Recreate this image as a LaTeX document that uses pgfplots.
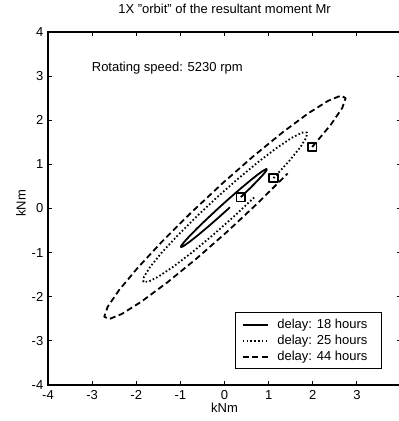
\documentclass[border=0pt]{standalone}
\usepackage{fontspec}
\setmainfont{Liberation Sans}
\usepackage{pgfplots}
\pgfplotsset{compat=1.18}

\begin{document}
\begin{tikzpicture}
\useasboundingbox (-48pt,-36pt) rectangle (351pt,385pt);
\clip (-48pt,-36pt) rectangle (351pt,385pt);
\begin{axis}[
  at={(0,0)}, anchor=south west,
  scale only axis, width=353pt, height=353pt,
  xmin=-4, xmax=4, ymin=-4, ymax=4,
  xtick={-4,...,4}, ytick={-4,...,4},
  xticklabels={-4,-3,-2,-1,0,1,2,3,{}},
  yticklabels={-4,-3,-2,-1,0,1,2,3,4},
  tick align=inside,
  major tick length=4pt,
  tick style={black, line width=1.1pt},
  axis line style={line width=1.5pt},
  font=\fontsize{13}{15.5}\selectfont,
  xticklabel style={anchor=north, inner sep=0pt, yshift=-5.5pt},
  yticklabel style={anchor=east, inner sep=0pt, xshift=-4.5pt},
  title={1X "orbit" of the resultant moment Mr},
  title style={at={(axis description cs:0.5,1)}, anchor=base, yshift=12.5pt, inner sep=0pt},
  xlabel={kNm}, ylabel={kNm},
  xlabel style={at={([yshift=-18pt]axis description cs:0.5,0)}, anchor=north, inner sep=0pt},
  ylabel style={at={([xshift=-27pt]axis description cs:0,0.515)}, anchor=center, inner sep=0pt},
  legend style={at={(0.946,0.045)}, anchor=south east, draw=black, line width=1pt,
    inner xsep=6pt, inner ysep=4pt, row sep=0pt, column sep=8.7pt,
    nodes={inner xsep=0pt, inner ysep=2pt, text height=9.5pt, text depth=2.5pt},
    font=\fontsize{13}{15.5}\selectfont},
  legend cell align=left,
  legend image code/.code={\draw[#1, line width=1.8pt] (0pt,0pt) -- (25pt,0pt);},
  every axis plot/.append style={black, line width=1.8pt, line join=round,
    mark=square, mark indices={1}, mark size=4.2pt,
    mark options={solid, fill=white, line width=1.7pt}},
]
% 18 hours
\addplot[solid] coordinates {
(0.369,0.257)(0.589,0.469)(0.767,0.650)(0.892,0.787)(0.955,0.871)(0.953,0.897)
(0.884,0.862)(0.754,0.769)(0.571,0.624)(0.349,0.438)(0.101,0.222)(-0.154,-0.008)
(-0.399,-0.237)(-0.619,-0.449)(-0.797,-0.630)(-0.922,-0.767)(-0.985,-0.851)(-0.983,-0.877)
(-0.914,-0.842)(-0.784,-0.749)(-0.601,-0.604)(-0.379,-0.418)(-0.131,-0.202)(0.124,0.028)};
\addlegendentry{delay: 18 hours\hspace*{8pt}}
% 25 hours
\addplot[dash pattern=on 1.6pt off 2.2pt] coordinates {
(1.111,0.690)(1.464,1.074)(1.718,1.387)(1.856,1.608)(1.869,1.721)(1.755,1.719)
(1.523,1.601)(1.188,1.377)(0.773,1.061)(0.306,0.674)(-0.180,0.244)(-0.653,-0.201)
(-1.081,-0.630)(-1.434,-1.014)(-1.688,-1.327)(-1.826,-1.548)(-1.839,-1.661)(-1.725,-1.659)
(-1.493,-1.541)(-1.158,-1.317)(-0.743,-1.001)(-0.276,-0.614)(0.210,-0.184)(0.683,0.261)};
\addlegendentry{delay: 25 hours\hspace*{8pt}}
% 44 hours
\addplot[dash pattern=on 6pt off 3.5pt] coordinates {
(1.987,1.394)(2.410,1.900)(2.668,2.278)(2.746,2.502)(2.637,2.558)(2.349,2.441)
(1.901,2.159)(1.325,1.732)(0.659,1.189)(-0.051,0.566)(-0.757,-0.094)(-1.411,-0.745)
(-1.967,-1.344)(-2.390,-1.850)(-2.648,-2.228)(-2.726,-2.452)(-2.617,-2.508)(-2.329,-2.391)
(-1.881,-2.109)(-1.305,-1.682)(-0.639,-1.139)(0.071,-0.516)(0.777,0.144)(1.431,0.795)};
\addlegendentry{delay: 44 hours\hspace*{8pt}}
\node[anchor=base west, inner sep=0pt] at (axis cs:-3.01,3.10) {Rotating speed: 5230 rpm};
\end{axis}
\end{tikzpicture}
\end{document}
